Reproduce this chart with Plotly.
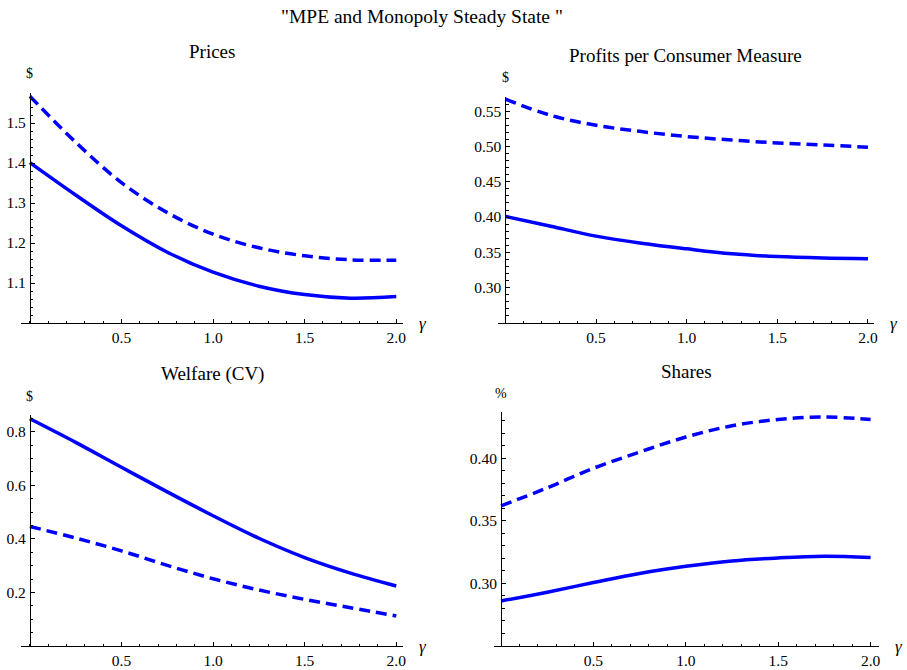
import plotly.graph_objects as go

# ---- data ----
gamma = [0.0, 0.25, 0.5, 0.75, 1.0, 1.25, 1.5, 1.75, 2.0]

prices_solid = [1.401, 1.320, 1.243, 1.177, 1.127, 1.092, 1.071, 1.062, 1.066]
prices_dashed = [1.567, 1.452, 1.351, 1.276, 1.222, 1.188, 1.168, 1.158, 1.157]

profits_solid = [0.401, 0.387, 0.373, 0.363, 0.355, 0.348, 0.344, 0.342, 0.341]
profits_dashed = [0.567, 0.544, 0.530, 0.521, 0.514, 0.509, 0.505, 0.502, 0.499]

welfare_solid = [0.848, 0.760, 0.667, 0.575, 0.486, 0.402, 0.330, 0.272, 0.224]
welfare_dashed = [0.446, 0.403, 0.355, 0.301, 0.251, 0.209, 0.174, 0.143, 0.112]

shares_solid = [0.286, 0.293, 0.3007, 0.308, 0.3137, 0.318, 0.3204, 0.3217, 0.3207]
shares_dashed = [0.362, 0.3764, 0.392, 0.405, 0.417, 0.426, 0.431, 0.433, 0.431]

titles = ["Prices", "Profits per Consumer Measure", "Welfare (CV)", "Shares"]
unit_labels = ["$", "$", "$", "%"]
main_title = '"MPE and Monopoly Steady State "'

x_tickvals = [0.5, 1.0, 1.5, 2.0]
x_ticktext = ["0.5", "1.0", "1.5", "2.0"]

y_tickvals = [
    [1.1, 1.2, 1.3, 1.4, 1.5],
    [0.30, 0.35, 0.40, 0.45, 0.50, 0.55],
    [0.2, 0.4, 0.6, 0.8],
    [0.30, 0.35, 0.40],
]
y_ticktext = [
    ["1.1", "1.2", "1.3", "1.4", "1.5"],
    ["0.30", "0.35", "0.40", "0.45", "0.50", "0.55"],
    ["0.2", "0.4", "0.6", "0.8"],
    ["0.30", "0.35", "0.40"],
]
y_minor_dtick = [0.02, 0.01, 0.05, 0.01]
y_ranges = [[1.0, 1.575], [0.25, 0.57], [0.0, 0.862], [0.25, 0.437]]
x_ranges = [[-0.049, 2.038], [-0.042, 2.034], [-0.049, 2.038], [-0.039, 2.046]]

series = [
    (prices_solid, prices_dashed),
    (profits_solid, profits_dashed),
    (welfare_solid, welfare_dashed),
    (shares_solid, shares_dashed),
]

# ---- layout geometry (pixels) ----
W, H = 907, 670
px_x = [(21, 405), (500, 878), (21, 405), (496, 883)]
px_y = [(93, 323), (97, 323), (415, 646), (412, 646)]

FONT = "Liberation Serif, Times New Roman, serif"
BLUE = "#0000FF"

fig = go.Figure()
layout = dict(
    width=W, height=H,
    margin=dict(l=0, r=0, t=0, b=0),
    paper_bgcolor="white", plot_bgcolor="white",
    showlegend=False,
    font=dict(family=FONT, size=15, color="black"),
    annotations=[],
)

for i in range(4):
    n = "" if i == 0 else str(i + 1)
    xa, ya = "x" + n, "y" + n
    solid, dashed = series[i]
    fig.add_trace(go.Scatter(x=gamma, y=dashed, xaxis=xa, yaxis=ya, mode="lines",
                             line=dict(color=BLUE, width=3.5, dash="11px,6px", shape="spline")))
    fig.add_trace(go.Scatter(x=gamma, y=solid, xaxis=xa, yaxis=ya, mode="lines",
                             line=dict(color=BLUE, width=3.5, shape="spline")))

    xd = [px_x[i][0] / W, px_x[i][1] / W]
    yd = [1 - px_y[i][1] / H, 1 - px_y[i][0] / H]
    xr = x_ranges[i]
    ypos = xd[0] + (0 - xr[0]) / (xr[1] - xr[0]) * (xd[1] - xd[0])

    layout["xaxis" + n] = dict(
        domain=xd, range=xr, anchor=ya, showgrid=False, zeroline=False,
        showline=True, linecolor="black", linewidth=1,
        tickmode="array", tickvals=x_tickvals, ticktext=x_ticktext,
        ticks="inside", ticklen=4, tickcolor="black", tickwidth=1,
        minor=dict(tickmode="linear", tick0=0, dtick=0.1, ticks="inside",
                   ticklen=2.5, tickcolor="black", tickwidth=1, showgrid=False),
        tickfont=dict(family=FONT, size=15.5, color="black"),
        fixedrange=True,
    )
    layout["yaxis" + n] = dict(
        domain=yd, range=y_ranges[i], anchor="free", position=ypos,
        showgrid=False, zeroline=False,
        showline=True, linecolor="black", linewidth=1,
        tickmode="array", tickvals=y_tickvals[i], ticktext=y_ticktext[i],
        ticks="inside", ticklen=4, tickcolor="black", tickwidth=1,
        ticklabelstandoff=1,
        minor=dict(tickmode="linear", tick0=0, dtick=y_minor_dtick[i], ticks="inside",
                   ticklen=2.5, tickcolor="black", tickwidth=1, showgrid=False),
        tickfont=dict(family=FONT, size=15.5, color="black"),
        fixedrange=True,
    )

    # panel title
    layout["annotations"].append(dict(
        text=titles[i], xref="paper", yref="paper",
        x=(xd[0] + xd[1]) / 2, y=yd[1] + 41 / H, xanchor="center", yanchor="middle",
        showarrow=False, font=dict(family=FONT, size=19, color="black")))
    # unit label above y axis
    layout["annotations"].append(dict(
        text=unit_labels[i], xref="paper", yref="paper",
        x=ypos, y=yd[1] + 19 / H, xanchor="center", yanchor="middle",
        showarrow=False, font=dict(family=FONT, size=14, color="black")))
    # gamma label at right end of x axis
    layout["annotations"].append(dict(
        text="<i>γ</i>", xref="paper", yref="paper",
        x=xd[1] + 20 / W, y=yd[0], xanchor="center", yanchor="middle",
        showarrow=False, font=dict(family=FONT, size=17, color="black")))

layout["annotations"].append(dict(
    text=main_title, xref="paper", yref="paper", x=424 / W, y=1 - 16 / H,
    xanchor="center", yanchor="middle", showarrow=False,
    font=dict(family=FONT, size=19.5, color="black")))

fig.update_layout(**layout)
fig.write_html("out.html", config={"displayModeBar": False},
               post_script="document.body.style.margin='0';")
